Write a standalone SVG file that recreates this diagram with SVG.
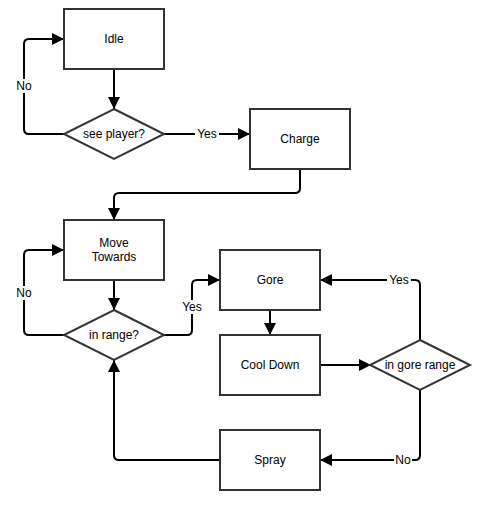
<svg xmlns="http://www.w3.org/2000/svg" width="490" height="510" viewBox="0 0 490 510">
<defs>
<style>
.node{fill:#fff;stroke:#333;stroke-width:2}
.t{font-family:"Liberation Sans",Arial,sans-serif;font-size:12px;fill:#000;text-anchor:middle;dominant-baseline:central}
.e{fill:none;stroke:#000;stroke-width:2}
.lb{fill:#fff}
</style>
<marker id="ah" markerUnits="userSpaceOnUse" markerWidth="12" markerHeight="12" viewBox="0 0 12 12" refX="12" refY="6" orient="auto">
<path d="M0,0 L12,6 L0,12 Z" fill="#000"/>
</marker>
</defs>
<rect width="490" height="510" fill="#fff"/>
<g id="connectors">
<path class="e" d="M114,69 V109" marker-end="url(#ah)"/>
<path class="e" d="M64,134 H29 Q24,134 24,129 V44 Q24,39 29,39 H64" marker-end="url(#ah)"/>
<path class="e" d="M164,134 H250" marker-end="url(#ah)"/>
<path class="e" d="M300,169 V188 Q300,193 295,193 H119 Q114,193 114,198 V220" marker-end="url(#ah)"/>
<path class="e" d="M114,280 V310" marker-end="url(#ah)"/>
<path class="e" d="M64,335 H29 Q24,335 24,330 V255 Q24,250 29,250 H64" marker-end="url(#ah)"/>
<path class="e" d="M164,335 H187 Q192,335 192,330 V285 Q192,280 197,280 H220" marker-end="url(#ah)"/>
<path class="e" d="M270,310 V335" marker-end="url(#ah)"/>
<path class="e" d="M320,365 H371" marker-end="url(#ah)"/>
<path class="e" d="M420,340 V285 Q420,280 415,280 H320" marker-end="url(#ah)"/>
<path class="e" d="M420,390 V455 Q420,460 415,460 H320" marker-end="url(#ah)"/>
<path class="e" d="M220,460 H119 Q114,460 114,455 V360" marker-end="url(#ah)"/>
<rect class="lb" x="15" y="79" width="18" height="14"/>
<text class="t" x="24" y="86">No</text>
<rect class="lb" x="195" y="127" width="24" height="14"/>
<text class="t" x="207" y="134">Yes</text>
<rect class="lb" x="15" y="286" width="18" height="14"/>
<text class="t" x="24" y="293">No</text>
<rect class="lb" x="180" y="300" width="24" height="14"/>
<text class="t" x="192" y="307">Yes</text>
<rect class="lb" x="387" y="273" width="24" height="14"/>
<text class="t" x="399" y="280">Yes</text>
<rect class="lb" x="394" y="453" width="18" height="14"/>
<text class="t" x="403" y="460">No</text>
</g>
<g id="idle"><rect class="node" x="64" y="9" width="100" height="60"/><text class="t" x="114" y="39">Idle</text></g>
<g id="see-player"><path class="node" d="M114,109 L164,134 L114,159 L64,134 Z"/><text class="t" x="114" y="134">see player?</text></g>
<g id="charge"><rect class="node" x="250" y="109" width="100" height="60"/><text class="t" x="300" y="139">Charge</text></g>
<g id="move-towards"><rect class="node" x="64" y="220" width="100" height="60"/><text class="t" x="114" y="243">Move</text><text class="t" x="114" y="257">Towards</text></g>
<g id="in-range"><path class="node" d="M114,310 L164,335 L114,360 L64,335 Z"/><text class="t" x="114" y="335">in range?</text></g>
<g id="gore"><rect class="node" x="220" y="250" width="100" height="60"/><text class="t" x="270" y="280">Gore</text></g>
<g id="cool-down"><rect class="node" x="220" y="335" width="100" height="60"/><text class="t" x="270" y="365">Cool Down</text></g>
<g id="in-gore-range"><path class="node" d="M420,340 L470,365 L420,390 L370,365 Z"/><text class="t" x="420" y="365">in gore range</text></g>
<g id="spray"><rect class="node" x="220" y="430" width="100" height="60"/><text class="t" x="270" y="460">Spray</text></g>
</svg>
